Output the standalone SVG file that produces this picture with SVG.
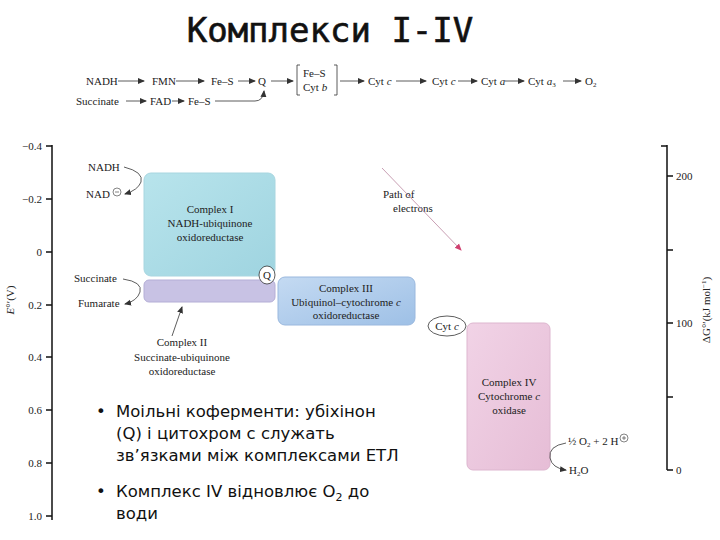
<svg xmlns="http://www.w3.org/2000/svg" width="720" height="540" viewBox="0 0 720 540">
<defs>
<style>
.t{font-family:"Liberation Serif",serif;font-size:11px;fill:#222}
.ax{stroke:#111;stroke-width:1.5;fill:none}
.ln{stroke:#333;stroke-width:0.8;fill:none}
.ar{stroke:#333;stroke-width:0.8;fill:none;marker-end:url(#a)}
.b{font-family:"DejaVu Sans",sans-serif;font-size:16.5px;fill:#111}
</style>
<marker id="a" markerUnits="userSpaceOnUse" markerWidth="8" markerHeight="8" refX="6" refY="4" orient="auto"><path d="M0,1 L7,4 L0,7 Z" fill="#333"/></marker>
<marker id="r" markerUnits="userSpaceOnUse" markerWidth="8" markerHeight="8" refX="6" refY="4" orient="auto"><path d="M0,1 L7,4 L0,7 Z" fill="#d04070"/></marker>
<linearGradient id="g1" x1="0" y1="0" x2="1" y2="1"><stop offset="0" stop-color="#b8e4ec"/><stop offset="1" stop-color="#9fd4e0"/></linearGradient>
<linearGradient id="g3" x1="0" y1="0" x2="1" y2="1"><stop offset="0" stop-color="#c4daf2"/><stop offset="1" stop-color="#9ec0e6"/></linearGradient>
<linearGradient id="g4" x1="0" y1="0" x2="1" y2="1"><stop offset="0" stop-color="#f1d3e6"/><stop offset="1" stop-color="#e6bdd6"/></linearGradient>
</defs>
<rect width="720" height="540" fill="#fff"/>
<text x="330" y="42" text-anchor="middle" style="font-family:'DejaVu Sans Mono',monospace;font-size:34px;fill:#111;stroke:#111;stroke-width:0.6">Комплекси I-IV</text>

<g id="chain">
<text class="t" x="86" y="85">NADH</text>
<text class="t" x="152" y="85">FMN</text>
<text class="t" x="211" y="85">Fe–S</text>
<text class="t" x="258" y="85">Q</text>
<text class="t" x="303" y="77">Fe–S</text>
<text class="t" x="303" y="91">Cyt <tspan font-style="italic">b</tspan></text>
<path class="ln" d="M300,65 h-3 v30 h3 M334,65 h3 v30 h-3"/>
<text class="t" x="368" y="85">Cyt <tspan font-style="italic">c</tspan></text>
<text class="t" x="432" y="85">Cyt <tspan font-style="italic">c</tspan></text>
<text class="t" x="481" y="85">Cyt <tspan font-style="italic">a</tspan></text>
<text class="t" x="528" y="85">Cyt <tspan font-style="italic">a</tspan><tspan font-size="7" dy="2">3</tspan></text>
<text class="t" x="585" y="85">O<tspan font-size="7" dy="2">2</tspan></text>
<text class="t" x="76" y="105">Succinate</text>
<text class="t" x="150" y="105">FAD</text>
<text class="t" x="188" y="105">Fe–S</text>
</g>

<g id="axes">
<path class="ax" d="M52,145 V520 M46,146 H52 M46,199 H52 M46,252 H52 M46,305 H52 M46,357 H52 M46,410 H52 M46,463 H52 M46,516 H52"/>
<g class="t" text-anchor="end">
<text x="42" y="150">−0.4</text><text x="42" y="203">−0.2</text><text x="42" y="256">0</text><text x="42" y="309">0.2</text><text x="42" y="361">0.4</text><text x="42" y="414">0.6</text><text x="42" y="467">0.8</text><text x="42" y="520">1.0</text>
</g>
<text class="t" transform="translate(14,300) rotate(-90)" text-anchor="middle"><tspan font-style="italic">E</tspan>°′(V)</text>
<path class="ax" d="M667,145 V470 M667,146 H661 M667,176 H673 M667,250 H673 M667,323 H673 M667,397 H673 M667,470 H673"/>
<g class="t"><text x="676" y="180">200</text><text x="676" y="327">100</text><text x="676" y="474">0</text></g>
<text class="t" transform="translate(710,310) rotate(-90)" text-anchor="middle">ΔG°′(kJ mol<tspan font-size="7" dy="-4">−1</tspan><tspan dy="4">)</tspan></text>
</g>

<g id="complex1">
<rect x="144" y="173" width="131" height="103" rx="7" fill="url(#g1)" stroke="#a8d6e0"/>
<g class="t" text-anchor="middle"><text x="210" y="213">Complex I</text><text x="210" y="227">NADH-ubiquinone</text><text x="210" y="241">oxidoreductase</text></g>
</g>
<g id="complex2">
<rect x="144" y="280" width="131" height="22" rx="5" fill="#c8c2e4" stroke="#b4aed6"/>
<g class="t" text-anchor="middle"><text x="182" y="346">Complex II</text><text x="182" y="361">Succinate-ubiquinone</text><text x="182" y="375">oxidoreductase</text></g>
</g>
<g id="complex3">
<rect x="278" y="277" width="137" height="48" rx="7" fill="url(#g3)" stroke="#9ab8de"/>
<g class="t" text-anchor="middle"><text x="346" y="292">Complex III</text><text x="346" y="306">Ubiquinol–cytochrome <tspan font-style="italic">c</tspan></text><text x="346" y="319">oxidoreductase</text></g>
</g>
<g id="complex4">
<rect x="467" y="323" width="83" height="147" rx="6" fill="url(#g4)" stroke="#ddb6cf"/>
<g class="t" text-anchor="middle"><text x="509" y="386">Complex IV</text><text x="509" y="400">Cytochrome <tspan font-style="italic">c</tspan></text><text x="509" y="414">oxidase</text></g>
</g>
<g id="q"><ellipse cx="267" cy="275" rx="8" ry="9" fill="#fff" stroke="#333" stroke-width="0.8"/><text class="t" x="267" y="279" text-anchor="middle">Q</text></g>
<g id="cytc"><ellipse cx="447" cy="326" rx="19" ry="10" fill="#fff" stroke="#333" stroke-width="0.8"/><text class="t" x="447" y="330" text-anchor="middle">Cyt <tspan font-style="italic">c</tspan></text></g>

<g id="labels">
<text class="t" x="88" y="171">NADH</text>
<text class="t" x="86" y="198">NAD</text>
<circle cx="117" cy="192" r="4" fill="none" stroke="#333" stroke-width="0.6"/><path d="M115,192 h4" stroke="#333" stroke-width="0.6"/>
<text class="t" x="74" y="282">Succinate</text>
<text class="t" x="78" y="307">Fumarate</text>
<text class="t" x="383" y="198">Path of</text>
<text class="t" x="393" y="212">electrons</text>
<text class="t" x="568" y="445">½ O<tspan font-size="7" dy="2">2</tspan><tspan dy="-2"> + 2 H</tspan></text>
<circle cx="624" cy="438" r="4" fill="none" stroke="#333" stroke-width="0.6"/><path d="M622,438 h4 M624,436 v4" stroke="#333" stroke-width="0.6"/>
<text class="t" x="569" y="474">H<tspan font-size="7" dy="2">2</tspan><tspan dy="-2">O</tspan></text>
</g>

<g id="connectors">
<path class="ar" d="M118,81 h26"/><path class="ar" d="M176,81 h28"/><path class="ar" d="M238,81 h17"/><path class="ar" d="M271,81 h22"/><path class="ar" d="M340,81 h24"/><path class="ar" d="M396,81 h30"/><path class="ar" d="M458,81 h19"/><path class="ar" d="M505,81 h19"/><path class="ar" d="M563,81 h18"/><path class="ar" d="M126,101 h20"/><path class="ar" d="M172,101 h12"/><path class="ar" d="M215,101 h40 q8,0 9,-10"/>
<path class="ar" d="M124,167 q20,5 17,15 q-3,8 -16,12"/>
<path class="ar" d="M123,279 q20,3 17,13 q-3,9 -15,12"/>
<path class="ar" d="M172,336 L182,307"/>
<path class="ar" d="M566,443 q-18,3 -16,15 q2,10 16,12"/>
<path stroke="#c9a0b4" stroke-width="1" fill="none" marker-end="url(#r)" d="M382,168 L461,250"/>
</g>

<g id="bullets">
<rect x="85" y="388" width="345" height="142" fill="#fff"/>
<text class="b" x="96" y="417">•</text>
<text class="b"><tspan x="116" y="417">Моільні коферменти: убіхінон</tspan><tspan x="116" y="439">(Q) і цитохром с служать</tspan><tspan x="116" y="461">зв’язками між комплексами ЕТЛ</tspan></text>
<text class="b" x="96" y="497">•</text>
<text class="b"><tspan x="116" y="497">Комплекс IV відновлює O<tspan font-size="11" dy="4">2</tspan><tspan dy="-4"> до</tspan></tspan><tspan x="116" y="519">води</tspan></text>
</g>
</svg>
